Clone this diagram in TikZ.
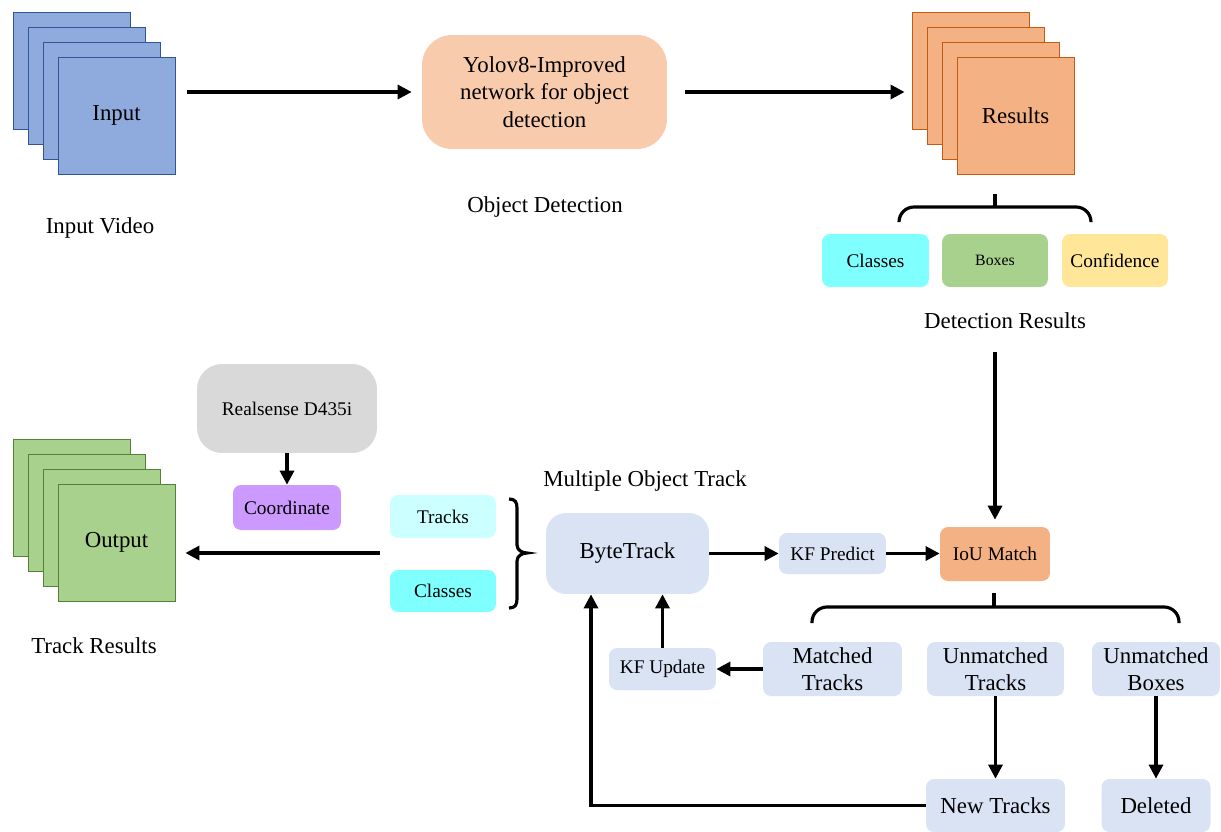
\documentclass[tikz,border=0pt]{standalone}
\usepackage{fontspec}
\setmainfont{Liberation Serif}
\usetikzlibrary{arrows.meta,calc}
\definecolor{inblue}{HTML}{8FAADC}
\definecolor{inedge}{HTML}{2F5597}
\definecolor{resorange}{HTML}{F4B183}
\definecolor{resedge}{HTML}{C55A11}
\definecolor{outgreen}{HTML}{A9D18E}
\definecolor{outedge}{HTML}{548235}
\definecolor{yolofill}{HTML}{F8CBAD}
\definecolor{aqua}{HTML}{80FFFF}
\definecolor{paleaqua}{HTML}{CCFFFF}
\definecolor{confyellow}{HTML}{FFE699}
\definecolor{coordpurple}{HTML}{CC99FF}
\definecolor{camgray}{HTML}{D9D9D9}
\definecolor{trkblue}{HTML}{DAE3F3}
\tikzset{
    big/.style={font=\fontsize{13}{15.6}\selectfont},
    small/.style={font=\fontsize{11}{13}\selectfont},
    arr/.style={line width=1.8pt,-{Triangle[length=8pt,width=8pt]}},
    brc/.style={line width=1.8pt,rounded corners=0.3cm},
    box/.style={rounded corners=0.16cm,inner sep=0pt,align=center,small},
    sq/.style={draw,line width=0.5pt,minimum size=2.34cm,inner sep=0pt,big}
}
\def\Stack#1#2#3#4#5#6{
    \foreach \i in {0,...,3}
        \node[sq,fill=#4,draw=#5] (#1\i) at ({#2+15*\i},{#3+15*\i}) {\ifnum\i=3 #6\fi};
}

\begin{document}
\begin{tikzpicture}[x=0.02cm,y=-0.02cm]
    \useasboundingbox (0,0) rectangle (1221,832);
    \Stack{in}{71.5}{70.5}{inblue}{inedge}{Input}
    \Stack{res}{970.5}{70.5}{resorange}{resedge}{Results}
    \Stack{out}{71.5}{497.5}{outgreen}{outedge}{Output}

    \node[box,big,fill=yolofill,rounded corners=0.6cm,minimum width=4.9cm,minimum height=2.28cm] (yolo) at (544.5,92) {Yolov8-Improved\\network for object\\detection};
    \node[box,fill=aqua,minimum width=2.14cm,minimum height=1.06cm] (cls) at (875.5,260.5) {Classes};
    \node[box,fill=outgreen,minimum width=2.12cm,minimum height=1.06cm,font=\fontsize{9}{11}\selectfont] (bxs) at (995,260.5) {Boxes};
    \node[box,fill=confyellow,minimum width=2.12cm,minimum height=1.06cm] (conf) at (1115,260.5) {Confidence};
    \node[box,fill=camgray,rounded corners=0.5cm,minimum width=3.6cm,minimum height=1.78cm] (rs) at (287,408.5) {Realsense D435i};
    \node[box,fill=coordpurple,minimum width=2.16cm,minimum height=0.9cm] (coord) at (287,507.5) {Coordinate};
    \node[box,fill=paleaqua,minimum width=2.12cm,minimum height=0.86cm] (trk) at (443,516.5) {Tracks};
    \node[box,fill=aqua,minimum width=2.12cm,minimum height=0.84cm] (cls2) at (443,591) {Classes};
    \node[box,big,fill=trkblue,rounded corners=0.4cm,minimum width=3.26cm,minimum height=1.62cm] (byte) at (627.5,553.5) {ByteTrack};
    \node[box,fill=trkblue,minimum width=2.14cm,minimum height=0.82cm] (kfp) at (832.5,553.5) {KF Predict};
    \node[box,fill=resorange,minimum width=2.2cm,minimum height=1.08cm] (iou) at (995,554) {IoU Match};
    \node[box,fill=trkblue,minimum width=2.14cm,minimum height=0.84cm] (kfu) at (662.5,669) {KF Update};
    \node[box,big,fill=trkblue,minimum width=2.78cm,minimum height=1.08cm] (mt) at (832.5,669) {Matched\\Tracks};
    \node[box,big,fill=trkblue,minimum width=2.74cm,minimum height=1.08cm] (umt) at (995.5,669) {Unmatched\\Tracks};
    \node[box,big,fill=trkblue,minimum width=2.56cm,minimum height=1.08cm] (umb) at (1156,669) {Unmatched\\Boxes};
    \node[box,big,fill=trkblue,minimum width=2.78cm,minimum height=1.06cm] (newt) at (995.5,805.5) {New Tracks};
    \node[box,big,fill=trkblue,minimum width=2.18cm,minimum height=1.06cm] (del) at (1156,805.5) {Deleted};

    \node[big] (invid) at (100,228) {Input Video};
    \node[big] (objdet) at (545,207) {Object Detection};
    \node[big] (detres) at (1005,321) {Detection Results};
    \node[big] (trkres) at (94,646) {Track Results};
    \node[big] (mot) at (645,481) {Multiple Object Track};

    \coordinate (dr) at (995,352);
    \coordinate (grp) at (380,553);
    \coordinate (tb) at (995,207);
    \coordinate (lb) at (994,607);

    \draw[arr] ($(in3.east |- yolo.west)+(12,0)$) -- ($(yolo.west)+(-10,0)$);
    \draw[arr] ($(yolo.east)+(18,0)$) -- ($(yolo.east -| res0.west)+(-7,0)$);
    \draw[arr] (dr) -- ($(iou.north)+(0,-7)$);
    \draw[arr] (byte.east |- kfp.west) -- (kfp.west);
    \draw[arr] (kfp.east) -- (kfp.east -| iou.west);
    \draw[arr] (mt.west) -- (kfu.east);
    \draw[arr] (kfu.north) -- (kfu.north |- byte.south);
    \draw[arr] (newt.west) -| ($(byte.south)+(-36.5,0)$);
    \draw[arr] (umt.south) -- (newt.north);
    \draw[arr] (umb.south) -- (umb.south |- del.north);
    \draw[arr] (rs.south) -- (coord.north);
    \draw[arr] (grp) -- ($(grp -| out3.east)+(10,0)$);

    \draw[brc] (899,222) -- (899,207) -- (1091,207) -- (1091,222);
    \draw[line width=1.8pt] (tb) -- ++(0,-13);
    \draw[brc] (812,623) -- (812,607) -- (1179,607) -- (1179,623);
    \draw[line width=1.8pt] (lb) -- ++(0,-14);
    \draw[line width=1.8pt] (509,499) .. controls (515,499) and (517,502) .. (517,508) -- (517,545) .. controls (517,550) and (522,553) .. (527,553) .. controls (522,553) and (517,556) .. (517,561) -- (517,599) .. controls (517,605) and (515,608) .. (509,608);
\end{tikzpicture}
\end{document}
